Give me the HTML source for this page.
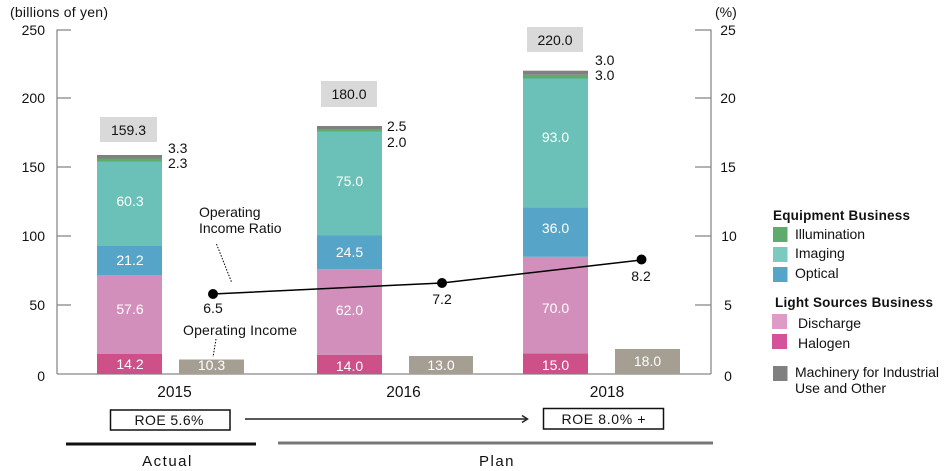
<!DOCTYPE html>
<html><head><meta charset="utf-8"><style>
html,body{margin:0;padding:0;background:#fff;}
svg{display:block;}
text{font-family:"Liberation Sans",Arial,sans-serif;}
</style></head><body>
<svg width="952" height="471" viewBox="0 0 952 471" xmlns="http://www.w3.org/2000/svg">
<!-- axis titles -->
<text x="10" y="17" font-size="14" fill="#111" textLength="98">(billions of yen)</text>
<text x="715" y="17" font-size="14" fill="#111">(%)</text>

<!-- axes -->
<g stroke="#888" stroke-width="1.3" fill="none">
<line x1="57" y1="29.5" x2="57" y2="374"/>
<line x1="711" y1="29.5" x2="711" y2="374"/>
<line x1="57" y1="374" x2="711" y2="374"/>
<line x1="57" y1="30" x2="71" y2="30"/>
<line x1="57" y1="98" x2="71" y2="98"/>
<line x1="57" y1="167" x2="71" y2="167"/>
<line x1="57" y1="236" x2="71" y2="236"/>
<line x1="57" y1="305" x2="71" y2="305"/>
<line x1="695" y1="30" x2="711" y2="30"/>
<line x1="695" y1="98" x2="711" y2="98"/>
<line x1="695" y1="167" x2="711" y2="167"/>
<line x1="695" y1="236" x2="711" y2="236"/>
<line x1="695" y1="305" x2="711" y2="305"/>
</g>
<g font-size="14" fill="#111" text-anchor="end">
<text x="45" y="35">250</text>
<text x="45" y="103">200</text>
<text x="45" y="172">150</text>
<text x="45" y="241">100</text>
<text x="45" y="310">50</text>
<text x="45" y="381">0</text>
</g>
<g font-size="14" fill="#111" text-anchor="middle">
<text x="728" y="35">25</text>
<text x="728" y="103">20</text>
<text x="728" y="172">15</text>
<text x="729" y="241">10</text>
<text x="728" y="310">5</text>
<text x="728" y="381">0</text>
</g>

<!-- 2015 bar -->
<rect x="97" y="354" width="65" height="20" fill="#cd5089"/>
<rect x="97" y="275" width="65" height="79" fill="#d38fbb"/>
<rect x="97" y="246" width="65" height="29" fill="#56a5c9"/>
<rect x="97" y="161.5" width="65" height="84.5" fill="#6bc1b8"/>
<rect x="97" y="158.5" width="65" height="3" fill="#5dab6d"/>
<rect x="97" y="155" width="65" height="3.5" fill="#808080"/>
<!-- 2016 bar -->
<rect x="317" y="354.7" width="65" height="19.3" fill="#cd5089"/>
<rect x="317" y="269.3" width="65" height="85.4" fill="#d38fbb"/>
<rect x="317" y="235.5" width="65" height="33.8" fill="#56a5c9"/>
<rect x="317" y="131.5" width="65" height="104" fill="#6bc1b8"/>
<rect x="317" y="129" width="65" height="2.5" fill="#5dab6d"/>
<rect x="317" y="126" width="65" height="3" fill="#808080"/>
<!-- 2018 bar -->
<rect x="523" y="353.3" width="65" height="20.7" fill="#cd5089"/>
<rect x="523" y="256.8" width="65" height="96.5" fill="#d38fbb"/>
<rect x="523" y="207.2" width="65" height="49.6" fill="#56a5c9"/>
<rect x="523" y="78.5" width="65" height="128.7" fill="#6bc1b8"/>
<rect x="523" y="74.8" width="65" height="3.7" fill="#5dab6d"/>
<rect x="523" y="70.7" width="65" height="4.1" fill="#808080"/>

<!-- operating income bars -->
<rect x="179" y="359.5" width="65" height="14.5" fill="#a59e93"/>
<rect x="409" y="356" width="64" height="18" fill="#a59e93"/>
<rect x="615" y="349" width="65" height="25" fill="#a59e93"/>

<!-- in-bar labels -->
<g font-size="14" fill="#fff" text-anchor="middle">
<text x="130" y="369">14.2</text>
<text x="130" y="314">57.6</text>
<text x="130" y="265">21.2</text>
<text x="130" y="206">60.3</text>
<text x="211.5" y="370">10.3</text>
<text x="349.5" y="371">14.0</text>
<text x="349.5" y="315">62.0</text>
<text x="349.5" y="257">24.5</text>
<text x="349.5" y="186">75.0</text>
<text x="441" y="370">13.0</text>
<text x="555.5" y="370">15.0</text>
<text x="555.5" y="313">70.0</text>
<text x="555.5" y="233">36.0</text>
<text x="555.5" y="142">93.0</text>
<text x="647.5" y="366">18.0</text>
</g>

<!-- total boxes -->
<rect x="100" y="117" width="57" height="25" fill="#d9d9d9"/>
<rect x="321" y="81" width="56" height="26" fill="#d9d9d9"/>
<rect x="527" y="27" width="56" height="25" fill="#d9d9d9"/>
<g font-size="14" fill="#111" text-anchor="middle">
<text x="128.5" y="135">159.3</text>
<text x="349" y="99">180.0</text>
<text x="555" y="45">220.0</text>
</g>
<g font-size="14" fill="#111">
<text x="168" y="153">3.3</text>
<text x="168" y="168">2.3</text>
<text x="387" y="131">2.5</text>
<text x="387" y="147">2.0</text>
<text x="595" y="65">3.0</text>
<text x="595" y="80">3.0</text>
</g>

<!-- ratio line -->
<polyline points="213,294 442,283 641,260" fill="none" stroke="#000" stroke-width="1.5"/>
<circle cx="213" cy="294" r="5" fill="#000"/>
<circle cx="442" cy="283" r="5" fill="#000"/>
<circle cx="641.5" cy="259.5" r="5" fill="#000"/>
<g font-size="14" fill="#111" text-anchor="middle">
<text x="213" y="313">6.5</text>
<text x="442" y="304">7.2</text>
<text x="641" y="281">8.2</text>
</g>

<!-- annotations -->
<g font-size="14" fill="#111">
<text x="199" y="217">Operating</text>
<text x="199" y="233">Income Ratio</text>
<text x="183" y="335" textLength="114">Operating Income</text>
</g>
<g stroke="#000" stroke-width="1" stroke-dasharray="1.5,1.5" fill="none">
<line x1="216.5" y1="244" x2="231.5" y2="282"/>
<line x1="216" y1="339" x2="213" y2="357"/>
</g>

<!-- year labels -->
<g font-size="15.5" fill="#111" text-anchor="middle">
<text x="174.5" y="397">2015</text>
<text x="403.5" y="397">2016</text>
<text x="607" y="397">2018</text>
</g>

<!-- ROE -->
<rect x="110.5" y="410" width="119.5" height="20" fill="#fff" stroke="#111" stroke-width="1.5"/>
<rect x="543.5" y="408.5" width="120" height="20.5" fill="#fff" stroke="#111" stroke-width="1.5"/>
<g font-size="14" fill="#111" text-anchor="middle">
<text x="169" y="425" textLength="69">ROE 5.6%</text>
<text x="603.5" y="424" textLength="84">ROE 8.0% +</text>
</g>
<line x1="245" y1="419" x2="527" y2="419" stroke="#222" stroke-width="1.5"/>
<polyline points="522,415.5 527.5,419 522,422.5" fill="none" stroke="#222" stroke-width="1.5"/>

<!-- actual / plan -->
<line x1="66" y1="444" x2="256" y2="444" stroke="#111" stroke-width="3"/>
<line x1="278" y1="443" x2="713" y2="443" stroke="#777" stroke-width="3"/>
<g font-size="15" fill="#111" text-anchor="middle">
<text x="167.5" y="466" letter-spacing="1.5">Actual</text>
<text x="497" y="466" letter-spacing="1.5">Plan</text>
</g>

<!-- legend -->
<text x="773" y="220" font-size="13.5" font-weight="bold" fill="#111" textLength="137">Equipment Business</text>
<rect x="773" y="227" width="14.5" height="15" fill="#5dab6d"/>
<rect x="773" y="247" width="14.5" height="15" fill="#7ccabf"/>
<rect x="773" y="267" width="14.5" height="15" fill="#55a5cb"/>
<g font-size="14" fill="#111">
<text x="795" y="239" textLength="70">Illumination</text>
<text x="795" y="258">Imaging</text>
<text x="795" y="278">Optical</text>
</g>
<text x="775" y="307" font-size="13.5" font-weight="bold" fill="#111" textLength="158">Light Sources Business</text>
<rect x="772" y="314" width="15" height="15" fill="#dc9cc6"/>
<rect x="772" y="334" width="15" height="15" fill="#d4529a"/>
<g font-size="14" fill="#111">
<text x="798" y="328">Discharge</text>
<text x="798" y="348">Halogen</text>
</g>
<rect x="773" y="366" width="14.5" height="15" fill="#808080"/>
<g font-size="14" fill="#111">
<text x="795" y="377" textLength="144">Machinery for Industrial</text>
<text x="795" y="393">Use and Other</text>
</g>
</svg>
</body></html>
